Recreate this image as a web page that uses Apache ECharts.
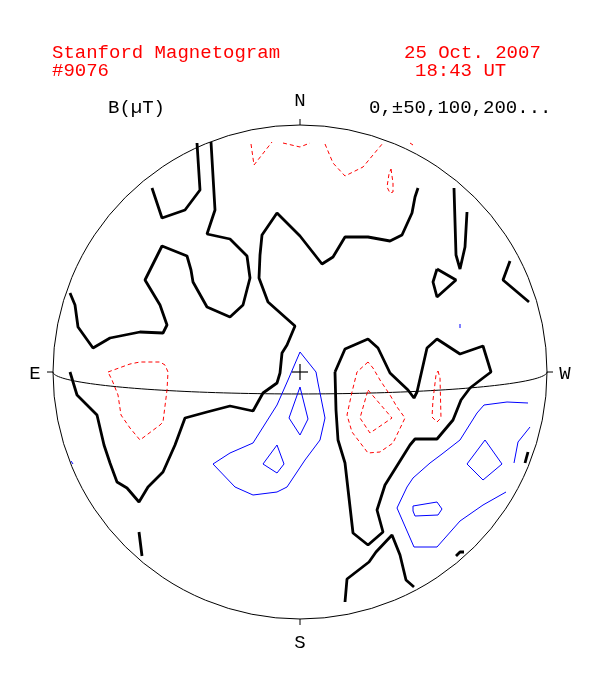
<!DOCTYPE html>
<html><head><meta charset="utf-8">
<script src="https://cdn.jsdelivr.net/npm/echarts/dist/echarts.min.js"></script>
<style>html,body{margin:0;padding:0;background:#fff}#c{width:604px;height:676px}</style>
</head><body><div id="c"></div>
<script>
// Disk coordinates: centre (0,0), north up, east left, solar radius = 247 units
const R = 247;
const B0_DEG = 5.1;            // heliographic latitude of disk centre (equator drawn from it)

const titleLeft = ["Stanford Magnetogram", "#9076"];
const titleRight = ["25 Oct. 2007", "18:43 UT"];
const unitLabel = "B(\u00b5T)";
const levelLabel = "0,\u00b150,100,200...";
const compass = ["N", "S", "E", "W"];

// zero-level contours (black)
const blackContours = [
  [[-148,184],[-138,154],[-115,162],[-100,182],[-103,229]],
  [[-230,79],[-225,67],[-222,45],[-207,24],[-190,34],[-160,40],[-137,39],[-133,47],[-140,67],[-155,92],[-138,126],[-113,116],[-109,102],[-107,90],[-93,65],[-70,55],[-57,67],[-50,94],[-53,116],[-70,133],[-93,138],[-85,162],[-89,230]],
  [[-230,0],[-223,-23],[-208,-38],[-203,-43],[-196,-73],[-190,-91],[-183,-110],[-173,-116],[-161,-130],[-152,-115],[-137,-100],[-125,-73],[-115,-46],[-93,-40],[-70,-34],[-47,-39],[-37,-21],[-23,-11],[-20,-1],[-18,19],[-13,27],[-5,46],[-32,70],[-41,94],[-40,117],[-38,137],[-23,159],[0,136],[22,108],[33,115],[45,135],[68,135],[90,131],[102,137],[112,159],[115,175],[118,184]],
  [[-161,-160],[-158,-184]],
  [[154,184],[156,117],[160,103],[165,125],[167,160]],
  [[137,103],[156,92],[137,75],[133,90],[137,103]],
  [[210,111],[203,92],[229,70]],
  [[35,0],[45,23],[68,33],[78,24],[90,-1],[108,-18],[114,-26],[117,-20],[127,24],[137,33],[160,18],[183,26],[191,0],[183,-6],[170,-16],[161,-28],[153,-48],[137,-67],[115,-67],[110,-73],[85,-113],[77,-138],[83,-160],[68,-173],[53,-161],[45,-91],[38,-68],[36,-38],[35,0]],
  [[228,-80],[225,-91]],
  [[156,-184],[160,-180],[164,-180]],
  [[45,-230],[47,-207],[69,-190],[76,-180],[92,-163],[100,-183],[106,-208],[114,-215]]
];

// negative-field contours (red, dashed)
const redContours = [
  [[-49,228],[-46,207],[-28,230]],
  [[-17,229],[0,225],[10,229]],
  [[25,228],[33,209],[45,196],[63,205],[83,229]],
  [[110,229],[113,227]],
  [[91,203],[93,189],[93,180],[90,179],[87,185],[89,198],[91,203]],
  [[-192,0],[-170,8],[-160,10],[-140,10],[-135,7],[-132,0],[-133,-18],[-137,-50],[-140,-53],[-160,-68],[-170,-56],[-179,-43],[-182,-23],[-188,-8],[-192,0]],
  [[68,10],[57,0],[52,-20],[47,-43],[52,-60],[68,-81],[80,-80],[93,-71],[105,-46],[97,-35],[90,-23],[80,-8],[73,4],[68,10]],
  [[68,-18],[92,-46],[70,-61],[60,-46],[68,-18]],
  [[138,1],[140,-6],[141,-46],[137,-50],[132,-45],[133,-28],[136,-3],[138,1]]
];

// positive-field contours (blue)
const blueContours = [
  [[0,20],[16,0],[18,-11],[25,-46],[20,-68],[5,-88],[-13,-115],[-23,-120],[-47,-123],[-65,-115],[-87,-92],[-70,-81],[-47,-71],[-23,-33],[-12,-8],[0,20]],
  [[0,-15],[8,-47],[0,-63],[-11,-46],[0,-15]],
  [[-23,-73],[-16,-92],[-23,-101],[-37,-92],[-23,-73]],
  [[228,-31],[207,-30],[184,-33],[177,-41],[160,-68],[142,-82],[130,-91],[113,-106],[107,-115],[97,-136],[114,-175],[137,-175],[160,-149],[183,-133],[206,-120]],
  [[185,-68],[202,-92],[183,-108],[167,-92],[185,-68]],
  [[113,-134],[137,-130],[142,-137],[138,-143],[115,-144],[113,-139],[113,-134]],
  [[230,-55],[218,-70],[214,-91]],
  [[160,48],[160,44]],
  [[-229,-89],[-227,-92]]
];

const FONT = '19px "Liberation Mono", "DejaVu Sans Mono", monospace';
const chart = echarts.init(document.getElementById('c'), null, {renderer: 'canvas'});

function mk(lines, color, width, type) {
  return lines.map(d => ({
    type: 'line', data: d, symbol: 'none', silent: true, clip: false,
    smooth: false, lineStyle: {color: color, width: width, type: type}
  }));
}

chart.setOption({
  animation: false,
  grid: {left: 53, top: 125, width: 494, height: 494},
  xAxis: {type: 'value', min: -R, max: R, show: false},
  yAxis: {type: 'value', min: -R, max: R, show: false},
  series: [].concat(
    mk(redContours, '#ff0000', 1, [4, 3]),
    mk(blueContours, '#0000ff', 1, 'solid'),
    mk(blackContours, '#000000', 2.8, 'solid')
  )
});

const P = p => chart.convertToPixel({gridIndex: 0}, p);
const c0 = P([0, 0]);
const rp = P([R, 0])[0] - c0[0];
const g = [];
g.push({type: 'circle', shape: {cx: c0[0], cy: c0[1], r: rp}, style: {fill: null, stroke: '#000', lineWidth: 1}, silent: true});
// solar equator (projected with B0)
const eq = [];
const b0 = B0_DEG * Math.PI / 180;
for (let i = 0; i <= 90; i++) {
  const lon = (-90 + i * 2) * Math.PI / 180;
  eq.push(P([R * Math.sin(lon), -R * Math.sin(b0) * Math.cos(lon)]));
}
g.push({type: 'polyline', shape: {points: eq}, style: {fill: null, stroke: '#000', lineWidth: 1}, silent: true});
// compass ticks
const tk = 6;
const ticks = [[[0, R], [0, R + tk]], [[0, -R], [0, -R - tk]], [[-R - tk, 0], [-R, 0]], [[R, 0], [R + tk, 0]]];
ticks.forEach(t => {
  const a = P(t[0]), b = P(t[1]);
  g.push({type: 'line', shape: {x1: a[0], y1: a[1], x2: b[0], y2: b[1]}, style: {stroke: '#000', lineWidth: 1}, silent: true});
});
// centre cross
g.push({type: 'line', shape: {x1: c0[0] - 8, y1: c0[1], x2: c0[0] + 8, y2: c0[1]}, style: {stroke: '#000', lineWidth: 1.2}, silent: true});
g.push({type: 'line', shape: {x1: c0[0], y1: c0[1] - 8, x2: c0[0], y2: c0[1] + 8}, style: {stroke: '#000', lineWidth: 1.2}, silent: true});

function txt(s, x, y, color, align) {
  g.push({type: 'text', x: x, y: y, silent: true,
    style: {text: s, font: FONT, fill: color, textAlign: align || 'left', textVerticalAlign: 'middle'}});
}
txt(titleLeft[0], 52, 52.5, '#ff0000');
txt(titleLeft[1], 52, 71, '#ff0000');
txt(titleRight[0], 404, 52.5, '#ff0000');
txt(titleRight[1], 415, 71, '#ff0000');
txt(unitLabel, 108, 107.5, '#000');
txt(levelLabel, 369, 107.5, '#000');
txt(compass[0], c0[0], 100.5, '#000', 'center');
txt(compass[1], c0[0], 643, '#000', 'center');
txt(compass[2], 35, 373.5, '#000', 'center');
txt(compass[3], 565, 373.5, '#000', 'center');

chart.setOption({graphic: g});
</script></body></html>
